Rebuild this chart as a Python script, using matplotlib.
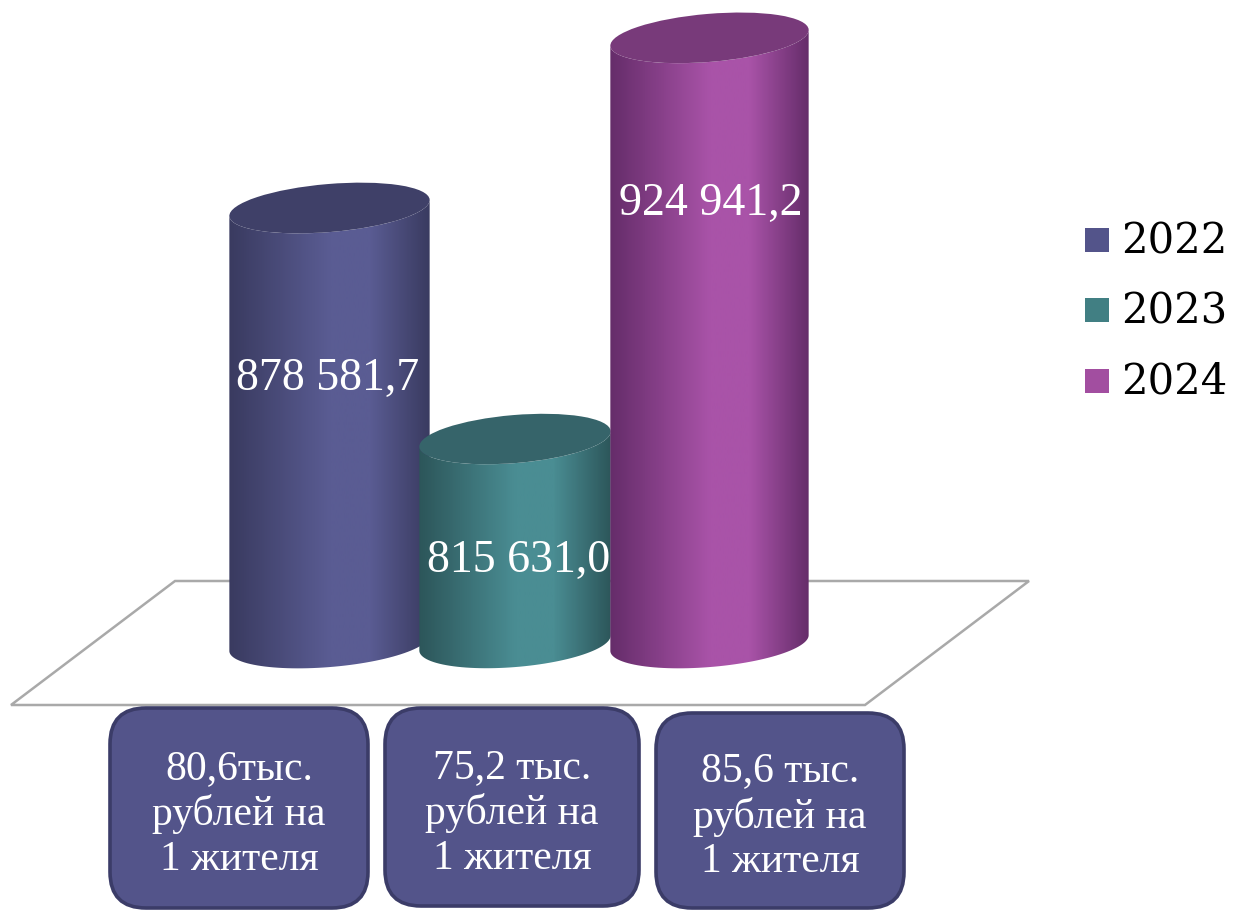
import numpy as np
import matplotlib
matplotlib.use('Agg')
import matplotlib.pyplot as plt
from matplotlib.colors import LinearSegmentedColormap
from matplotlib.patches import Ellipse, FancyBboxPatch, PathPatch, Polygon, Rectangle
from matplotlib.path import Path

# данные
years = ['2022', '2023', '2024']
totals = [878581.7, 815631.0, 924941.2]
total_labels = ['878 581,7', '815 631,0', '924 941,2']
per_capita = ['80,6тыс.\nрублей на\n1 жителя', '75,2 тыс.\nрублей на\n1 жителя', '85,6 тыс.\nрублей на\n1 жителя']

# оформление
edge_cols = ['#393a5f', '#2c5559', '#642c69']
mid_cols = ['#5a5c93', '#4a8d93', '#a953a8']
top_cols = ['#3f4068', '#36646a', '#783a7a']
legend_cols = ['#53548a', '#417f83', '#a24ea0']
cyl_left = [229, 419, 610]
cyl_right = [430, 611, 809]
label_pos = [(328, 379), (519, 561), (711, 204)]
box_xy = [(110, 708, 258, 200), (385, 708, 254, 198), (656, 713, 248, 195)]
legend_y = [240, 310, 381]
serif = ['Liberation Serif', 'DejaVu Serif']

fig = plt.figure(figsize=(12.34, 9.10), dpi=100)

# ось значений: только для пересчёта значения в пиксели
ax_v = fig.add_axes([0, 0, 1, 1])
ax_v.set_ylim(687300, 935257)
ax_v.axis('off')

# основная ось в пикселях
ax = fig.add_axes([0, 0, 1, 1])
ax.set_xlim(0, 1234)
ax.set_ylim(910, 0)
ax.axis('off')

# плоскость основания
ax.add_patch(Polygon([(11, 705), (175, 581), (1029, 581), (865, 705)], closed=True,
                     fc='white', ec='#a9a9a9', lw=1.8, zorder=1))


def ellipse_points(cx, cy, a, b, tilt, t):
    x = a * np.cos(t)
    y = b * np.sin(t)
    return cx + x * np.cos(tilt) - y * np.sin(tilt), cy + x * np.sin(tilt) + y * np.cos(tilt)


tilt = np.radians(-4.8)
base_y = 643
t_low = np.linspace(np.pi, 0, 60)   # нижняя дуга
for i in range(3):
    x0, x1 = cyl_left[i], cyl_right[i]
    cx = (x0 + x1) / 2
    a = (x1 - x0) / 2
    b = 24
    top_y = 910 - ax_v.transData.transform((0, totals[i]))[1]
    z = 2 + i

    # боковая поверхность
    bx, by = ellipse_points(cx, base_y, a, b, tilt, t_low)
    tx, ty = ellipse_points(cx, top_y, a, b, tilt, t_low[::-1])
    verts = np.vstack([np.column_stack([bx, by]), np.column_stack([tx, ty]), [bx[0], by[0]]])
    body = PathPatch(Path(verts), fc='none', ec='none', transform=ax.transData, zorder=z)
    ax.add_patch(body)
    cmap = LinearSegmentedColormap.from_list('c', [edge_cols[i], mid_cols[i], mid_cols[i], edge_cols[i]])
    grad = np.concatenate([np.linspace(0, 0.33, 80), np.linspace(0.33, 0.66, 30), np.linspace(0.66, 1, 50)])
    im = ax.imshow(grad[None, :], cmap=cmap, extent=(x0 - 2, x1 + 2, 700, 0), aspect='auto', zorder=z,
                   interpolation='bilinear')
    im.set_clip_path(body)

    # верхняя крышка
    ax.add_patch(Ellipse((cx, top_y), 2 * a, 2 * b, angle=np.degrees(tilt), fc=top_cols[i], ec='none', zorder=z + 0.1))

ax.set_xlim(0, 1234)
ax.set_ylim(910, 0)
ax.set_aspect('auto')

# подписи значений
for i in range(3):
    ax.text(label_pos[i][0], label_pos[i][1], total_labels[i], color='white', fontsize=33, family=serif,
            ha='center', va='center', zorder=10)

# блоки с показателем на 1 жителя
for i in range(3):
    x, y, w, h = box_xy[i]
    r = 36
    ax.add_patch(FancyBboxPatch((x + r, y + r), w - 2 * r, h - 2 * r, boxstyle='round,pad=%d,rounding_size=%d' % (r, r),
                                fc='#53548a', ec='#3b3c68', lw=2.6, zorder=6))
    ax.text(x + w / 2, y + h / 2 + 6, per_capita[i], color='white', fontsize=30, family=serif,
            ha='center', va='center', linespacing=1.2, zorder=10)

# легенда
for i in range(3):
    ax.add_patch(Rectangle((1085, legend_y[i] - 12), 24, 24, fc=legend_cols[i], ec='none', zorder=6))
    ax.text(1121, legend_y[i] + 1, years[i], color='black', fontsize=30, family=['DejaVu Serif'],
            ha='left', va='center', zorder=10)

fig.savefig('out.png', dpi=100, facecolor='white')
